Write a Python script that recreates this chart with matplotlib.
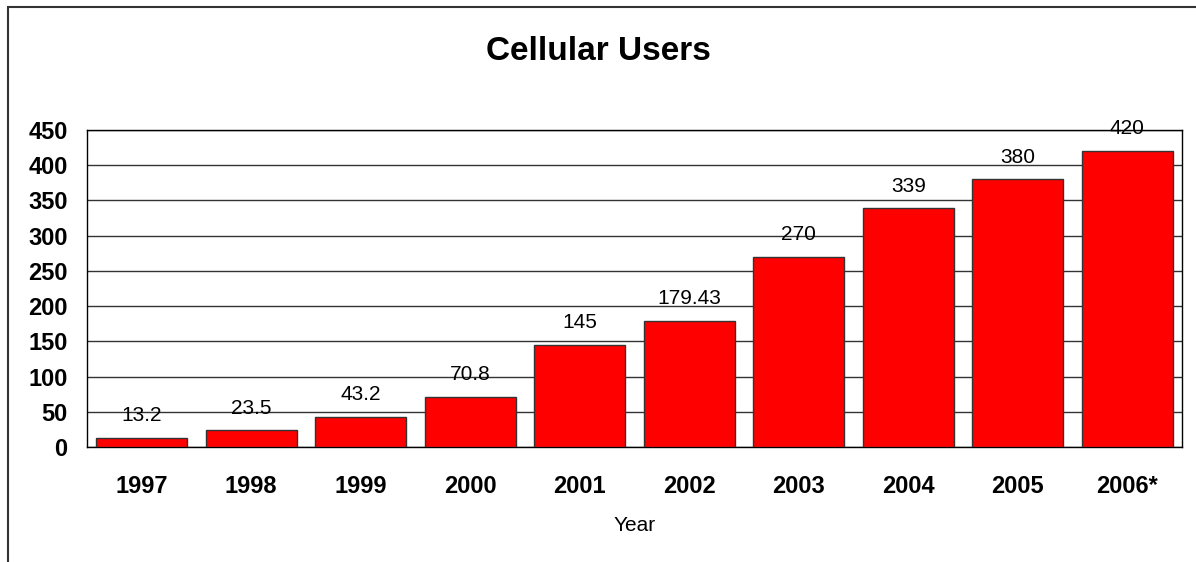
import matplotlib.pyplot as plt
from matplotlib.patches import Rectangle

plt.rcParams['font.family'] = ['Liberation Sans', 'DejaVu Sans']

# 数据
years = ['1997', '1998', '1999', '2000', '2001', '2002', '2003', '2004', '2005', '2006*']
users = [13.2, 23.5, 43.2, 70.8, 145, 179.43, 270, 339, 380, 420]
labels = ['13.2', '23.5', '43.2', '70.8', '145', '179.43', '270', '339', '380', '420']
yticks = [0, 50, 100, 150, 200, 250, 300, 350, 400, 450]

fig = plt.figure(figsize=(11.96, 5.62), dpi=100)
ax = fig.add_axes([87 / 1196, 1 - 447 / 562, (1182 - 87) / 1196, (447 - 130) / 562])

# 外框
fig.patches.append(Rectangle((8 / 1196, -0.1), 1.2, 1 - 7 / 562 + 0.1, transform=fig.transFigure,
                             fill=False, edgecolor='#333333', linewidth=1.5, zorder=0))

x = range(len(years))
ax.bar(x, users, width=0.83, color='#ff0000', edgecolor='#333333', linewidth=1, zorder=3)
ax.set_xlim(-0.5, len(years) - 0.5)
ax.set_ylim(0, 450)
ax.set_yticks(yticks)
ax.set_yticklabels([str(t) for t in yticks], fontsize=17, fontweight='bold')
ax.set_xticks(list(x))
ax.set_xticklabels(years, fontsize=17, fontweight='bold')
ax.tick_params(axis='both', length=0)
ax.tick_params(axis='x', pad=20)
ax.tick_params(axis='y', pad=14)
ax.yaxis.grid(True, color='#333333', linewidth=1, zorder=0)
ax.set_axisbelow(True)
for s in ax.spines.values():
    s.set_color('black')
    s.set_linewidth(1)

# 数值标签
for i, v in enumerate(users):
    ax.annotate(labels[i], (i, v), textcoords='offset points', xytext=(0, 12),
                ha='center', va='baseline', fontsize=15)

ax.set_xlabel('Year', fontsize=15, labelpad=13)
fig.text(0.5, 1 - 51 / 562, 'Cellular Users', ha='center', va='center', fontsize=24, fontweight='bold')

fig.savefig('out.png', dpi=100)
